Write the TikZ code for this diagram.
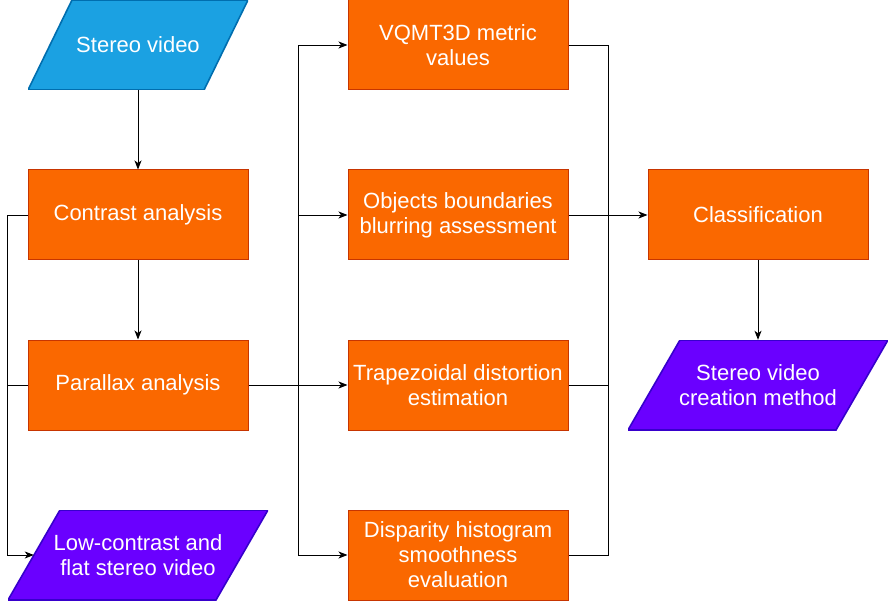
\documentclass[tikz,border=0pt]{standalone}
\usepackage{fontspec}
\setmainfont{Liberation Sans}
\usetikzlibrary{arrows.meta,calc}
\definecolor{orfill}{HTML}{FA6800}
\definecolor{ordraw}{HTML}{C73500}
\definecolor{blfill}{HTML}{1BA1E2}
\definecolor{bldraw}{HTML}{006EAF}
\definecolor{pufill}{HTML}{6A00FF}
\definecolor{pudraw}{HTML}{3700CC}

\begin{document}
\begin{tikzpicture}[x=1pt,y=-1pt,
  txt/.style={text=white, font=\fontsize{22}{25}\selectfont, align=center, inner sep=0pt},
  procbox/.style={txt, rectangle, fill=orfill, draw=ordraw, line width=1pt,
    minimum width=220pt, minimum height=90pt},
  % parallelogram drawn inside the node's box; #1 = horizontal slant
  para/.style n args={3}{txt, rectangle, minimum height=90pt,
    path picture={
      \filldraw[fill=#2, draw=#3, line width=1.6pt]
        (path picture bounding box.south west)
        -- ($(path picture bounding box.north west)+(#1,0)$)
        -- (path picture bounding box.north east)
        -- ($(path picture bounding box.south east)-(#1,0)$)
        -- cycle;}},
  inbox/.style={para={44}{blfill}{bldraw}, minimum width=220pt},
  outbox/.style={para={52}{pufill}{pudraw}, minimum width=260pt},
  wire/.style={draw=black, line width=0.9pt},
  conn/.style={wire, -{Stealth[length=9pt, width=7pt, inset=2.5pt]}}
]
\useasboundingbox (0,0) rectangle (888,601);

% left column
\node[inbox]  (sv) at (138,45)  {Stereo video};
\node[procbox] (ca) at (138,215) {Contrast analysis};
\node[procbox] (pa) at (138,385) {Parallax analysis};
\node[outbox] (lc) at (138,555) {Low-contrast and\\flat stereo video};

% middle column
\node[procbox] (vq) at (458,45)  {VQMT3D metric\\values};
\node[procbox] (ob) at (458,215) {Objects boundaries\\blurring assessment};
\node[procbox] (tz) at (458,385) {Trapezoidal distortion\\estimation};
\node[procbox] (dh) at (458,555) {Disparity histogram\\smoothness\\evaluation};

% right column
\node[procbox] (cl) at (758,215) {Classification};
\node[outbox] (sm) at (758,385) {Stereo video\\creation method};

% main vertical flow
\draw[conn] (sv.south) -- (ca.north);
\draw[conn] (ca.south) -- (pa.north);

% low-contrast branch on the left
\coordinate (lcin) at ($(lc.west)+(26,0)$);
\draw[conn] (ca.west) -- ++(-20,0) |- (lcin);
\draw[wire] (pa.west) -- ++(-20,0);

% fan-out to the four assessments
\coordinate (busL) at ($(pa.east)!0.5!(tz.west)$);
\draw[conn] (pa.east) -- (tz.west);
\draw[conn] (busL) |- (vq.west);
\draw[conn] (busL) |- (ob.west);
\draw[conn] (busL) |- (dh.west);

% gather into classification
\coordinate (busR) at ($(ob.east)+(40,0)$);
\draw[wire] (vq.east) -| (busR) |- (dh.east);
\draw[wire] (tz.east) -- (tz.east -| busR);
\draw[conn] (ob.east) -- (cl.west);
\draw[conn] (cl.south) -- (sm.north);
\end{tikzpicture}
\end{document}
